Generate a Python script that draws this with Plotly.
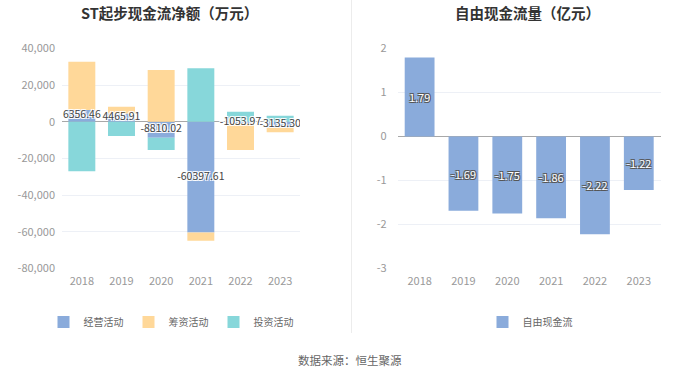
import plotly.graph_objects as go

years = ["2018", "2019", "2020", "2021", "2022", "2023"]
operating = [6356.46, 4465.91, -8810.02, -60397.61, -1053.97, -3135.30]
financing = [26340, 3710, 28170, -4450, -14370, -2640]
investing = [-27010, -7800, -6610, 29100, 5450, 3270]
free_cf = [1.79, -1.69, -1.75, -1.86, -2.22, -1.22]

left_tickvals = [40000, 20000, 0, -20000, -40000, -60000, -80000]
left_ticktext = ["40,000", "20,000", "0", "-20,000", "-40,000", "-60,000", "-80,000"]
right_tickvals = [2, 1, 0, -1, -2, -3]
right_ticktext = ["2", "1", "0", "-1", "-2", "-3"]

BLUE = "#8aabdb"
ORANGE = "#ffd899"
CYAN = "#87d7da"
FONT = "Noto Sans CJK SC, Noto Sans, sans-serif"

fig = go.Figure()

fig.add_trace(go.Bar(x=years, y=operating, name="经营活动", marker=dict(color=BLUE, line=dict(width=0)),
                     xaxis="x", yaxis="y", legend="legend"))
fig.add_trace(go.Bar(x=years, y=financing, name="筹资活动", marker=dict(color=ORANGE, line=dict(width=0)),
                     xaxis="x", yaxis="y", legend="legend"))
fig.add_trace(go.Bar(x=years, y=investing, name="投资活动", marker=dict(color=CYAN, line=dict(width=0)),
                     xaxis="x", yaxis="y", legend="legend"))

# labels for operating activity, centered on the operating bar segment
fig.add_trace(go.Scatter(
    x=years, y=[v / 2 for v in operating], mode="text",
    text=[f"{v:.2f}" for v in operating],
    textfont=dict(size=10.5, color="#444", family=FONT,
                  shadow="-1px -1px 0 #fff, 1px -1px 0 #fff, -1px 1px 0 #fff, 1px 1px 0 #fff"),
    showlegend=False, hoverinfo="skip", xaxis="x", yaxis="y"))

fig.add_trace(go.Bar(x=years, y=free_cf, name="自由现金流", marker=dict(color=BLUE, line=dict(width=0)),
                     xaxis="x2", yaxis="y2", legend="legend2",
                     text=[f"{v:.2f}" for v in free_cf], textposition="inside",
                     insidetextanchor="middle", textangle=0, constraintext="none",
                     textfont=dict(size=11, color="#ffffff", family=FONT,
                                   shadow="-1px -1px 0 #555, 1px -1px 0 #555, -1px 1px 0 #555, 1px 1px 0 #555")))

axis_font = dict(size=11, color="#999999", family=FONT)
legend_font = dict(size=10, color="#666666", family=FONT)

fig.update_layout(
    width=700, height=377,
    margin=dict(l=0, r=0, t=0, b=0, autoexpand=False),
    paper_bgcolor="white", plot_bgcolor="white",
    barmode="relative",
    bargap=0.32,
    font=dict(family=FONT),
    uniformtext=dict(minsize=10, mode="show"),
    xaxis=dict(domain=[62 / 700, 300 / 700], anchor="y", type="category", automargin=False,
               showgrid=False, showline=False, ticks="", tickfont=axis_font, ticklabelstandoff=4),
    yaxis=dict(domain=[(377 - 268.5) / 377, (377 - 48.3) / 377], anchor="x", automargin=False,
               range=[-80000, 40000], tickvals=left_tickvals, ticktext=left_ticktext,
               showgrid=True, gridcolor="#edf0f6", gridwidth=1,
               zeroline=True, zerolinecolor="#a8a8a8", zerolinewidth=1.2,
               showline=False, ticks="", tickfont=axis_font, ticklabelstandoff=6),
    xaxis2=dict(domain=[397.7 / 700, 660.7 / 700], anchor="y2", type="category", automargin=False,
                showgrid=False, showline=False, ticks="", tickfont=axis_font, ticklabelstandoff=4),
    yaxis2=dict(domain=[(377 - 268.5) / 377, (377 - 48.3) / 377], anchor="x2", automargin=False,
                range=[-3, 2], tickvals=right_tickvals, ticktext=right_ticktext,
                showgrid=True, gridcolor="#edf0f6", gridwidth=1,
                zeroline=True, zerolinecolor="#a8a8a8", zerolinewidth=1.2,
                showline=False, ticks="", tickfont=axis_font, ticklabelstandoff=10),
    legend=dict(orientation="h", x=171 / 700, xanchor="center", y=(377 - 322) / 377, yanchor="middle",
                font=legend_font, itemwidth=30, bgcolor="rgba(0,0,0,0)"),
    legend2=dict(orientation="h", x=530 / 700, xanchor="center", y=(377 - 322) / 377, yanchor="middle",
                 font=legend_font, itemwidth=30, bgcolor="rgba(0,0,0,0)"),
    annotations=[
        dict(text="<b>ST起步现金流净额（万元）</b>", x=169 / 700, y=(377 - 12) / 377, xref="paper", yref="paper",
             xanchor="center", yanchor="middle", showarrow=False,
             font=dict(size=14.5, color="#333333", family=FONT)),
        dict(text="<b>自由现金流量（亿元）</b>", x=527 / 700, y=(377 - 12) / 377, xref="paper", yref="paper",
             xanchor="center", yanchor="middle", showarrow=False,
             font=dict(size=14.5, color="#333333", family=FONT)),
        dict(text="数据来源：恒生聚源", x=350 / 700, y=(377 - 360) / 377, xref="paper", yref="paper",
             xanchor="center", yanchor="middle", showarrow=False,
             font=dict(size=11.5, color="#666666", family=FONT)),
    ],
    shapes=[
        dict(type="line", xref="paper", yref="paper", x0=351.5 / 700, x1=351.5 / 700,
             y0=(377 - 333) / 377, y1=1, line=dict(color="#ececec", width=1)),
    ],
)

fig.write_html("out.html",
               config={"displayModeBar": False},
               post_script="document.body.style.margin='0';document.body.style.padding='0';")
